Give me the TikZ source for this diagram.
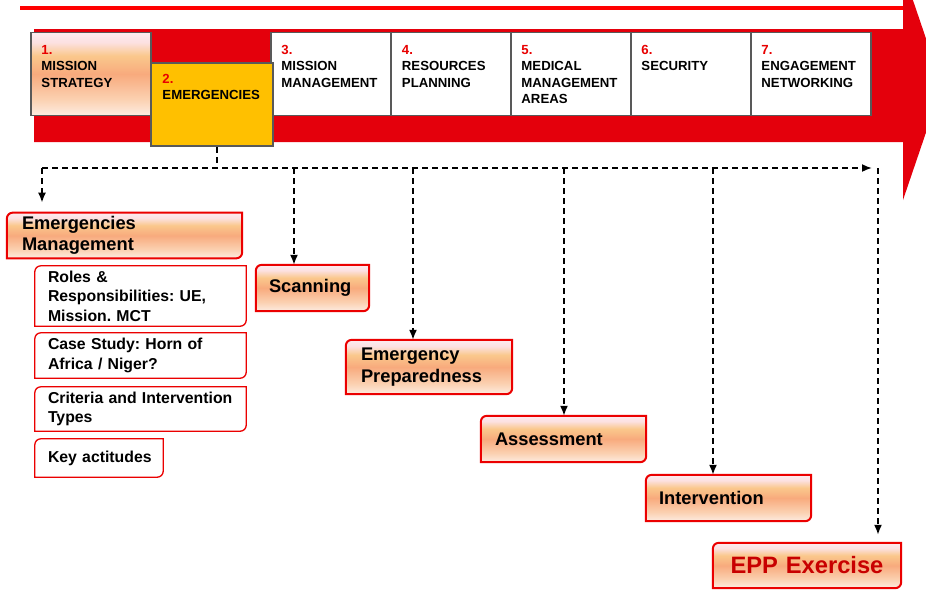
\documentclass[tikz,border=0pt]{standalone}
\usepackage{fontspec}
\setmainfont{Liberation Sans}
\usepackage{tikz}
\usetikzlibrary{arrows,arrows.meta,positioning,backgrounds}
\pgfdeclarelayer{background}
\pgfsetlayers{background,main}
\frenchspacing

\definecolor{shaftred}{RGB}{228,0,12}
\definecolor{linered}{RGB}{255,0,0}
\definecolor{boxred}{RGB}{235,0,0}
\definecolor{numred}{RGB}{232,0,0}
\definecolor{eppred}{RGB}{200,0,0}
\definecolor{gold}{RGB}{255,192,0}
\pgfdeclareverticalshading{warmshade}{100bp}{
  rgb(0bp)=(0.992,0.925,0.882); rgb(25bp)=(0.992,0.925,0.882);
  rgb(35bp)=(0.984,0.816,0.690); rgb(50bp)=(0.973,0.667,0.490);
  rgb(61bp)=(0.980,0.784,0.549); rgb(69bp)=(0.988,0.882,0.882);
  rgb(75bp)=(0.992,0.922,0.941); rgb(100bp)=(0.992,0.922,0.941)}

\tikzset{
  stage/.style={draw=black!65,line width=1.5pt,minimum width=120pt,minimum height=83pt},
  warm/.style={shade,shading=warmshade},
  stagetext/.style={anchor=north west,align=left,inner sep=0pt,font=\bfseries\fontsize{13.2}{16.5}\selectfont},
  phase/.style={inner xsep=0pt,align=left,minimum height=46pt,font=\bfseries\fontsize{18.3}{21.5}\selectfont},
  topic/.style={inner xsep=0pt,align=left,minimum width=211pt,text width=185pt,font=\bfseries\fontsize{15.8}{19.5}\selectfont},
  flow/.style={dash pattern=on 6pt off 4pt,line width=1.7pt}
}

\begin{document}
\begin{tikzpicture}[x=1pt,y=-1pt,>={Latex[length=10pt,width=8pt]}]
\useasboundingbox (0,0) rectangle (926,590);
\clip (0,0) rectangle (926,590);

% big arrow
\fill[shaftred] (34,29) -- (903,29) -- (903,-29) -- (942,85.5) -- (903,200) -- (903,142) -- (34,142) -- cycle;
\draw[linered,line width=4.5pt] (20,8) -- (903,8);

% stages
\node(s1) at (91,74)[stage,warm]         {};
\node(s3) at (331,74)[stage,fill=white]  {};
\node(s4) at (451.5,74)[stage,fill=white] {};
\node(s5) at (571,74)[stage,fill=white]  {};
\node(s6) at (691,74)[stage,fill=white]  {};
\node(s7) at (811,74)[stage,fill=white]  {};
\node(s2) at (212,104.5)[stage,fill=gold,minimum width=122pt] {};

\node(t1) [stagetext,below right=13pt and 11pt of s1.north west] {\textcolor{numred}{1.}\\MISSION\\STRATEGY};
\node(t2) [stagetext,below right=11.5pt and 12pt of s2.north west] {\textcolor{numred}{2.}\\EMERGENCIES};
\node(t3) [stagetext,below right=13pt and 11pt of s3.north west] {\textcolor{numred}{3.}\\MISSION\\MANAGEMENT};
\node(t4) [stagetext,below right=13pt and 11pt of s4.north west] {\textcolor{numred}{4.}\\RESOURCES\\PLANNING};
\node(t5) [stagetext,below right=13pt and 11pt of s5.north west] {\textcolor{numred}{5.}\\MEDICAL\\MANAGEMENT\\AREAS};
\node(t6) [stagetext,below right=13pt and 11pt of s6.north west] {\textcolor{numred}{6.}\\SECURITY};
\node(t7) [stagetext,below right=13pt and 11pt of s7.north west] {\textcolor{numred}{7.}\\ENGAGEMENT\\NETWORKING};

% phases
\node(mgmt) at (124.5,235.5)[phase,minimum width=235pt,text width=205pt,minimum height=45pt] {Emergencies\\Management};
\node(scan) at (312.5,288)[phase,minimum width=113pt,text width=87pt]      {Scanning};
\node(prep) at (429,367)[phase,minimum width=166pt,text width=136pt,minimum height=54pt] {Emergency\\Preparedness};
\node(assess) at (563.5,439)[phase,minimum width=165pt,text width=137pt]  {Assessment};
\node(interv) at (728.5,498)[phase,minimum width=165pt,text width=139pt]  {Intervention};
\node(epp) at (807,565.5)[phase,minimum width=188pt,text width=160pt,minimum height=45pt,align=center,text=eppred,font=\bfseries\fontsize{23.7}{28}\selectfont] {EPP~Exercise};

% topics
\node(roles) at (140.5,296)[topic,minimum height=60pt]   {Roles \&\\Responsibilities:~UE,\\Mission. MCT};
\node(case) at (140.5,355.5)[topic,minimum height=45pt]  {Case~Study:~Horn~of\\Africa / Niger?};
\node(crit) at (140.5,409)[topic,minimum height=44pt]    {Criteria~and~Intervention\\Types};
\node(key) at (99,458)[topic,minimum width=128pt,text width=102pt,minimum height=38pt] {\mbox{Key actitudes}};

\begin{pgfonlayer}{background}
\foreach \n in {mgmt,scan,prep,assess,interv,epp}
  \draw[boxred,line width=2pt,warm] (\n.south west) -- ([yshift=-6pt]\n.north west) arc[start angle=180,end angle=90,radius=6pt]
    -- (\n.north east) -- ([yshift=6pt]\n.south east) arc[start angle=0,end angle=-90,radius=6pt] -- cycle;
\foreach \n in {roles,case,crit,key}
  \draw[boxred,line width=1.3pt,fill=white] (\n.south west) -- ([yshift=-6pt]\n.north west) arc[start angle=180,end angle=90,radius=6pt]
    -- (\n.north east) -- ([yshift=6pt]\n.south east) arc[start angle=0,end angle=-90,radius=6pt] -- cycle;
\end{pgfonlayer}

% dashed connectors
\coordinate(hub) at (217,168);
\coordinate(west) at (42,168);
\coordinate(east) at (872,168);
\coordinate(d1) at (294,168);
\coordinate(d2) at (413,168);
\coordinate(d3) at (564,168);
\coordinate(d4) at (713,168);
\coordinate(d5) at (878,168);

\draw[flow] (hub |- s2.south) -- (hub);
\draw[flow,->] (west) -- (east);
\draw[flow,->,shorten >=10pt] (west) -- (west |- mgmt.north);
\draw[flow,->] (d1) -- (d1 |- scan.north);
\draw[flow,->] (d2) -- (d2 |- prep.north);
\draw[flow,->] (d3) -- (d3 |- assess.north);
\draw[flow,->] (d4) -- (d4 |- interv.north);
\draw[flow,->,shorten >=8pt] (d5) -- (d5 |- epp.north);

\end{tikzpicture}
\end{document}
